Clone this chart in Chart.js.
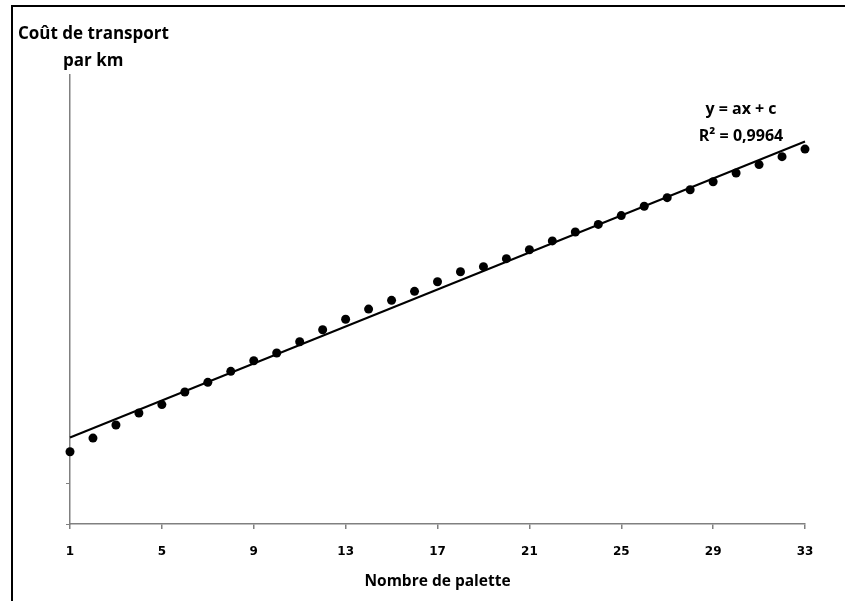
<!DOCTYPE html>
<html>
<head>
<meta charset="utf-8">
<script src="https://cdn.jsdelivr.net/npm/chart.js@4/dist/chart.umd.min.js"></script>
<style>
  html, body { margin: 0; padding: 0; background: #fff; }
  #wrap { width: 845px; height: 601px; position: relative; }
</style>
</head>
<body>
<div id="wrap"><canvas id="myChart"></canvas></div>
<script>
// nombre de palettes (axe x)
var palettes = [1, 2, 3, 4, 5, 6, 7, 8, 9, 10, 11, 12, 13, 14, 15, 16, 17,
                18, 19, 20, 21, 22, 23, 24, 25, 26, 27, 28, 29, 30, 31, 32, 33];
// cout de transport par km (echelle arbitraire)
var cout = [0.354, 0.421, 0.485, 0.544, 0.585, 0.647, 0.694, 0.748, 0.800, 0.838,
            0.893, 0.952, 1.003, 1.053, 1.096, 1.140, 1.187, 1.236, 1.261, 1.300,
            1.344, 1.387, 1.431, 1.468, 1.511, 1.557, 1.599, 1.638, 1.677, 1.720,
            1.761, 1.800, 1.837];
// courbe de tendance lineaire
var trendX = [1, 33];
var trendY = [0.424, 1.874];
var xTicks = [1, 5, 9, 13, 17, 21, 25, 29, 33];
var yTicks = [0, 0.2];
var equation = ['y = ax + c', 'R² = 0,9964'];
var yTitle = ['Coût de transport', 'par km'];

var points = palettes.map(function (p, i) { return { x: p, y: cout[i] }; });
var trend = trendX.map(function (p, i) { return { x: p, y: trendY[i] }; });

var textPlugin = {
    id: 'texts',
    beforeDraw: function (chart) {
        var c = chart.ctx;
        c.save();
        c.fillStyle = '#fff';
        c.fillRect(0, 0, chart.width, chart.height);
        // cadre
        c.strokeStyle = '#000';
        c.lineWidth = 2;
        c.beginPath();
        c.moveTo(12, 601);
        c.lineTo(12, 6);
        c.lineTo(845, 6);
        c.stroke();
        c.restore();
    },
    afterDraw: function (chart) {
        var c = chart.ctx;
        c.save();
        c.fillStyle = '#000';
        c.font = "bold 17px 'Open Sans'";
        c.textBaseline = 'alphabetic';
        c.textAlign = 'left';
        c.fillText(yTitle[0], 18, 39);
        c.fillText(yTitle[1], 63, 66);
        c.font = "bold 16px 'Open Sans'";
        c.textAlign = 'center';
        c.fillText(equation[0], 741, 114);
        c.fillText(equation[1], 741, 141);
        c.restore();
    }
};

const ctx = document.getElementById('myChart');

new Chart(ctx, {
    type: 'scatter',
    data: {
        datasets: [{
            label: 'Coût',
            data: points,
            pointRadius: 4.5,
            pointBackgroundColor: '#000',
            pointBorderWidth: 0,
            showLine: false,
            clip: false
        }, {
            type: 'line',
            label: 'Tendance',
            data: trend,
            borderColor: '#000',
            borderWidth: 2,
            pointRadius: 0,
            fill: false,
            clip: false
        }]
    },
    options: {
        responsive: true,
        maintainAspectRatio: false,
        animation: false,
        layout: { padding: { top: 75, right: 40, left: 0, bottom: 0 } },
        plugins: {
            legend: { display: false },
            tooltip: { enabled: false }
        },
        scales: {
            x: {
                type: 'linear',
                min: 1,
                max: 33,
                afterBuildTicks: function (scale) {
                    scale.ticks = xTicks.map(function (v) { return { value: v }; });
                },
                afterFit: function (scale) { scale.height = 77; },
                border: { color: '#808080', width: 1.5 },
                grid: { drawOnChartArea: false, drawTicks: true, tickLength: 5, color: '#808080', lineWidth: 1.5 },
                ticks: {
                    color: '#000',
                    padding: 16,
                    maxRotation: 0,
                    autoSkip: false,
                    font: { family: 'DejaVu Sans', weight: 'bold', size: 12 }
                },
                title: {
                    display: true,
                    text: 'Nombre de palette',
                    color: '#000',
                    font: { family: 'Open Sans', weight: 'bold', size: 15.5 },
                    padding: { top: 0, bottom: 10 }
                }
            },
            y: {
                min: 0,
                max: 2.2,
                afterBuildTicks: function (scale) {
                    scale.ticks = yTicks.map(function (v) { return { value: v }; });
                },
                afterFit: function (scale) { scale.width = 70; },
                border: { color: '#808080', width: 1.5 },
                grid: { drawOnChartArea: false, drawTicks: true, tickLength: 4, color: '#808080', lineWidth: 1 },
                ticks: { display: false }
            }
        }
    },
    plugins: [textPlugin]
});
</script>
</body>
</html>
